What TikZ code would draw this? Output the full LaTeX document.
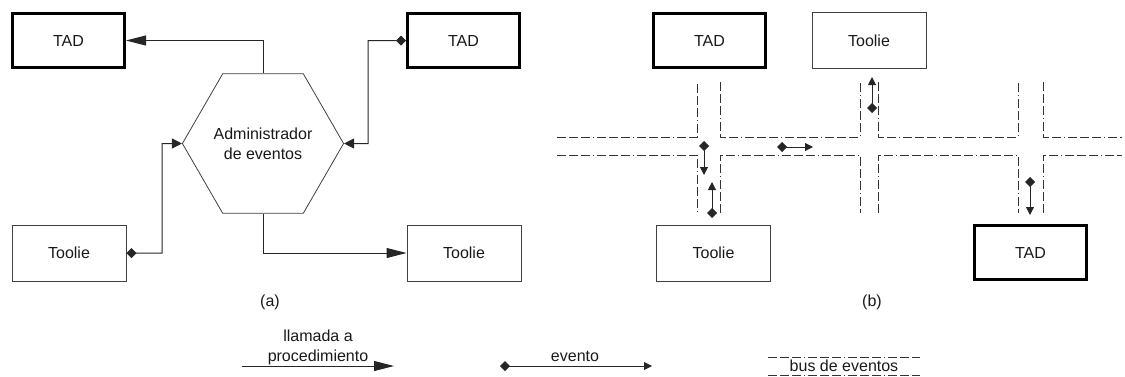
\documentclass[tikz,border=0pt]{standalone}
\usepackage{fontspec}
\setmainfont{Liberation Sans}
\usetikzlibrary{arrows.meta,shapes.geometric}

\begin{document}
\begin{tikzpicture}[x=1pt,y=-1pt,
  every node/.style={font=\fontsize{16}{20}\selectfont, text=black!90},
  box/.style={draw=black!75, line width=1pt, minimum width=114pt, minimum height=56pt, inner sep=0pt},
  tadbox/.style={box, draw=black, line width=3pt, minimum width=112pt, minimum height=54pt},
  hexa/.style={regular polygon, regular polygon sides=6, draw=black!75, line width=0.8pt,
    minimum size=130pt, inner sep=0pt, align=center},
  wire/.style={draw=black!85, line width=1pt},
  call/.style={wire, -{Triangle[length=20pt,width=10pt]}},
  evta/.style={wire, {Diamond[length=10pt,width=10pt]}-{Triangle[length=10pt,width=10pt]}},
  evt/.style={wire, {Diamond[length=10pt,width=10pt]}-{Triangle[length=8pt,width=8pt]}},
  bus/.style={draw=black!80, line width=0.8pt,
    dash pattern=on 9pt off 3pt on 9pt off 3pt on 9pt off 3pt on 1pt off 3pt},
  lbl/.style={inner sep=0pt}
]
\useasboundingbox (0,0) rectangle (1125,376);

% ---------- (a) event manager ----------
\node[tadbox] (tad1) at (68.5,40.5) {TAD};
\node[tadbox] (tad2) at (463.5,40.5) {TAD};
\node[box] (toolie1) at (69,253) {Toolie};
\node[box] (toolie2) at (464,253) {Toolie};
\node[hexa] (hex) at (263,143.5) {Administrador\\de eventos};

\coordinate (ja) at (162,143.5);
\coordinate (jb) at (368,143.5);

\draw[call] (hex.north) |- (tad1.east);
\draw[call] (hex.south) |- (toolie2.west);
\draw[evta] (tad2.west) -| (jb) -- (hex.east);
\draw[evta] (toolie1.east) -| (ja) -- (hex.west);

\node[lbl] (capa) at (270,302) {(a)};

% ---------- (b) event bus ----------
\node[tadbox] (tad3) at (709.5,40.5) {TAD};
\node[box] (toolie3) at (869,40.5) {Toolie};
\node[box] (toolie4) at (713.5,253) {Toolie};
\node[tadbox] (tad4) at (1030.5,252.5) {TAD};

% bus outline: upper edge with branches
\draw[bus] (557,137) -- (697,137) -- (697,82);
\draw[bus] (720,82) -- (720,137) -- (860,137) -- (860,82);
\draw[bus] (878,82) -- (878,137) -- (1018,137) -- (1018,82);
\draw[bus] (1043,82) -- (1043,137) -- (1122,137);
% bus outline: lower edge with branches
\draw[bus] (557,155) -- (697,155) -- (697,213);
\draw[bus] (720,213) -- (720,155) -- (860,155) -- (860,213);
\draw[bus] (878,213) -- (878,155) -- (1018,155) -- (1018,213);
\draw[bus] (1043,213) -- (1043,155) -- (1122,155);

% events travelling on the bus
\coordinate (e1s) at (704,141);  \coordinate (e1t) at (704,175);
\coordinate (e2s) at (712,218);  \coordinate (e2t) at (712,182);
\coordinate (e3s) at (872,113);  \coordinate (e3t) at (872,77);
\coordinate (e4s) at (777,147);  \coordinate (e4t) at (813,147);
\coordinate (e5s) at (1030,177); \coordinate (e5t) at (1030,215);
\draw[evt] (e1s) -- (e1t);
\draw[evt] (e2s) -- (e2t);
\draw[evt] (e3s) -- (e3t);
\draw[evt] (e4s) -- (e4t);
\draw[evt] (e5s) -- (e5t);

\node[lbl] (capb) at (872,302) {(b)};

% ---------- legend ----------
\coordinate (lc1) at (242,366); \coordinate (lc2) at (394,366);
\draw[call] (lc1) -- (lc2);
\node[lbl, align=center, anchor=base] (lct) at (318,361) {llamada a\\procedimiento};

\coordinate (le1) at (500,366); \coordinate (le2) at (652,366);
\draw[evt] (le1) -- (le2);
\node[lbl, anchor=base] (let) at (575,361) {evento};

\draw[bus] (768,357) -- (920,357);
\draw[bus] (768,375) -- (920,375);
\node[lbl, anchor=base] (lbt) at (844,371) {bus de eventos};
\end{tikzpicture}
\end{document}
